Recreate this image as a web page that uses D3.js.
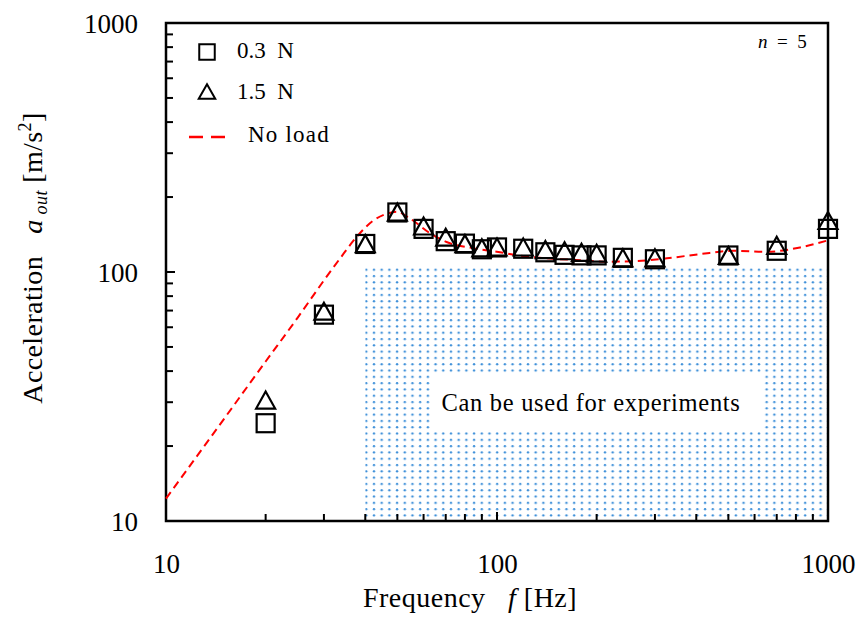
<!DOCTYPE html>
<html>
<head>
<meta charset="utf-8">
<script src="https://cdn.jsdelivr.net/npm/d3@7"></script>
<style>
  html, body { margin: 0; padding: 0; background: #fff; }
  svg text { font-family: "Liberation Serif", "Times New Roman", Times, serif; }
</style>
</head>
<body>
<svg id="chart" width="866" height="621"></svg>
<script>
// ---------- data ----------
const freqs = [20, 30, 40, 50, 60, 70, 80, 90, 100, 120, 140, 160, 180, 200, 240, 300, 500, 700, 1000];
const load03 = [24.7, 67.4, 129.6, 173.4, 149, 133, 130, 123.4, 125.5, 124, 120, 117.2, 116.6, 116.6, 114, 112.5, 116.5, 121.7, 149];
const load15 = [30.6, 69.6, 130, 174, 153, 138, 130, 125, 126, 126, 123, 121.7, 120, 119, 114, 114, 116.6, 128, 161];

const noLoadFreq = [10, 15, 20, 25, 30, 33.5, 37.6, 42.3, 46.9, 49.8, 54.6, 62.8, 70.4, 84.8, 99.8, 114.5, 141, 178, 214, 259, 326, 411, 518, 654, 823, 1000];
const noLoadAcc  = [12.3, 25.8, 43.7, 65.6, 92.5, 113, 138, 161, 172, 174.6, 164, 143, 132, 124.6, 120.6, 117, 113.5, 111.5, 110, 110.5, 113.5, 118, 121.7, 120.6, 125.5, 134];

const xTicks = [10, 100, 1000];
const yTicks = [10, 100, 1000];
const usableFreq = [40, 1000];
const usableAcc = [10, 105];

// ---------- layout ----------
const svg = d3.select("#chart");
const X0 = 166, X1 = 828, Y0 = 23, Y1 = 521;
const x = d3.scaleLog().domain([10, 1000]).range([X0, X1]);
const y = d3.scaleLog().domain([10, 1000]).range([Y1, Y0]);
const FONT = "Liberation Serif";

// dot pattern
const defs = svg.append("defs");
const pat = defs.append("pattern").attr("id", "dots")
  .attr("patternUnits", "userSpaceOnUse")
  .attr("x", x(usableFreq[0]) - 1).attr("y", y(usableAcc[1]) + 1)
  .attr("width", 7.7).attr("height", 6.3);
pat.append("circle").attr("cx", 2).attr("cy", 2).attr("r", 1.2).attr("fill", "#3b8ed8");

svg.append("rect")
  .attr("x", x(usableFreq[0])).attr("y", y(usableAcc[1]))
  .attr("width", x(usableFreq[1]) - x(usableFreq[0]))
  .attr("height", y(usableAcc[0]) - y(usableAcc[1]))
  .attr("fill", "url(#dots)");

// annotation box
svg.append("rect").attr("x", 433).attr("y", 375).attr("width", 328).attr("height", 55).attr("fill", "#fff");
svg.append("text").attr("transform", "translate(591,411)").attr("font-family", FONT)
  .attr("text-anchor", "middle").attr("font-size", 24.5).attr("letter-spacing", 0.7)
  .text("Can be used for experiments");

// axes ticks (inside)
const xMinor = [];
[10, 100].forEach(d => { for (let k = 2; k <= 9; k++) xMinor.push(d * k); });
const gx = svg.append("g").attr("transform", `translate(0,${Y1})`)
  .call(d3.axisBottom(x).tickValues(xTicks).tickSize(0).tickFormat(d3.format("d")));
gx.attr("font-family", FONT);
gx.select(".domain").remove();
gx.selectAll("text").attr("font-size", 27).attr("font-family", FONT).attr("fill", "#000").attr("dy", "1.8em");
svg.append("g").selectAll("line").data(xMinor.concat(xTicks)).join("line")
  .attr("x1", d => x(d)).attr("x2", d => x(d))
  .attr("y1", Y1).attr("y2", d => Y1 - (xTicks.includes(d) ? 9 : 7))
  .attr("stroke", "#000").attr("stroke-width", 2);

const gy = svg.append("g").attr("transform", `translate(${X0},0)`)
  .call(d3.axisLeft(y).tickValues(yTicks).tickSize(0).tickFormat(d3.format("d")));
gy.attr("font-family", FONT);
gy.select(".domain").remove();
gy.selectAll("text").attr("font-size", 27).attr("font-family", FONT).attr("fill", "#000")
  .attr("x", -28).attr("dy", "0.36em");
svg.append("g").selectAll("line").data(xMinor.concat(yTicks)).join("line")
  .attr("y1", d => y(d)).attr("y2", d => y(d))
  .attr("x1", X0).attr("x2", d => X0 + (yTicks.includes(d) ? 9 : 7))
  .attr("stroke", "#000").attr("stroke-width", 2);

// frame
svg.append("rect").attr("x", X0).attr("y", Y0).attr("width", X1 - X0).attr("height", Y1 - Y0)
  .attr("fill", "none").attr("stroke", "#000").attr("stroke-width", 2.5);

// no-load curve
const nl = noLoadFreq.map((f, i) => [f, noLoadAcc[i]]);
svg.append("path").datum(nl)
  .attr("d", d3.line().x(d => x(d[0])).y(d => y(d[1])).curve(d3.curveMonotoneX))
  .attr("fill", "none").attr("stroke", "#ff0000").attr("stroke-width", 2)
  .attr("stroke-dasharray", "8,5");

// markers
const S = 18;
svg.append("g").selectAll("rect").data(freqs.map((f, i) => [f, load03[i]])).join("rect")
  .attr("x", d => x(d[0]) - S / 2).attr("y", d => y(d[1]) - S / 2)
  .attr("width", S).attr("height", S)
  .attr("fill", "none").attr("stroke", "#000").attr("stroke-width", 2.2);

const triPath = (cx, cy, w, h) => `M${cx},${cy - h / 2}L${cx + w / 2},${cy + h / 2}L${cx - w / 2},${cy + h / 2}Z`;
svg.append("g").selectAll("path").data(freqs.map((f, i) => [f, load15[i]])).join("path")
  .attr("d", d => triPath(x(d[0]), y(d[1]), 19, 17))
  .attr("fill", "none").attr("stroke", "#000").attr("stroke-width", 2.2).attr("stroke-linejoin", "miter");

// legend
const LS = 15.5;
svg.append("rect").attr("x", 207 - LS / 2).attr("y", 52 - LS / 2).attr("width", LS).attr("height", LS)
  .attr("fill", "none").attr("stroke", "#000").attr("stroke-width", 2);
svg.append("path").attr("d", triPath(207, 91.5, 16.5, 14.5))
  .attr("fill", "none").attr("stroke", "#000").attr("stroke-width", 2);
svg.append("line").attr("x1", 189).attr("x2", 225).attr("y1", 137).attr("y2", 137)
  .attr("stroke", "#ff0000").attr("stroke-width", 2.5).attr("stroke-dasharray", "14,8");
const legTxt = [["0.3  N", 237, 57.5, 0], ["1.5  N", 237, 99, 0], ["No load", 248, 142, 1.2]];
legTxt.forEach(t => svg.append("text").attr("x", t[1]).attr("y", t[2]).attr("font-family", FONT)
  .attr("font-size", 23).attr("letter-spacing", t[3]).style("white-space", "pre").text(t[0]));

// n = 5
const nt = svg.append("text").attr("x", 758).attr("y", 48).attr("font-size", 19).attr("font-family", FONT);
nt.append("tspan").attr("font-style", "italic").text("n");
nt.append("tspan").style("white-space", "pre").text("  =  5");

// axis titles
const xt = svg.append("text").attr("transform", "translate(470,607)").attr("font-family", FONT)
  .attr("text-anchor", "middle").attr("font-size", 28).attr("letter-spacing", 0.5).style("white-space", "pre");
xt.append("tspan").text("Frequency   ");
xt.append("tspan").attr("font-style", "italic").text("f");
xt.append("tspan").text(" [Hz]");

const yt = svg.append("text").attr("transform", "translate(42,258) rotate(-90)").attr("font-family", FONT)
  .attr("text-anchor", "middle").attr("font-size", 28).attr("letter-spacing", 0.4).style("white-space", "pre");
yt.append("tspan").text("Acceleration   ");
yt.append("tspan").attr("font-style", "italic").text("a");
yt.append("tspan").attr("font-style", "italic").attr("font-size", 18).attr("dy", 5).text(" out");
yt.append("tspan").attr("dy", -5).text(" [m/s");
yt.append("tspan").attr("font-size", 18).attr("dy", -11).text("2");
yt.append("tspan").attr("dy", 11).text("]");
</script>
</body>
</html>
